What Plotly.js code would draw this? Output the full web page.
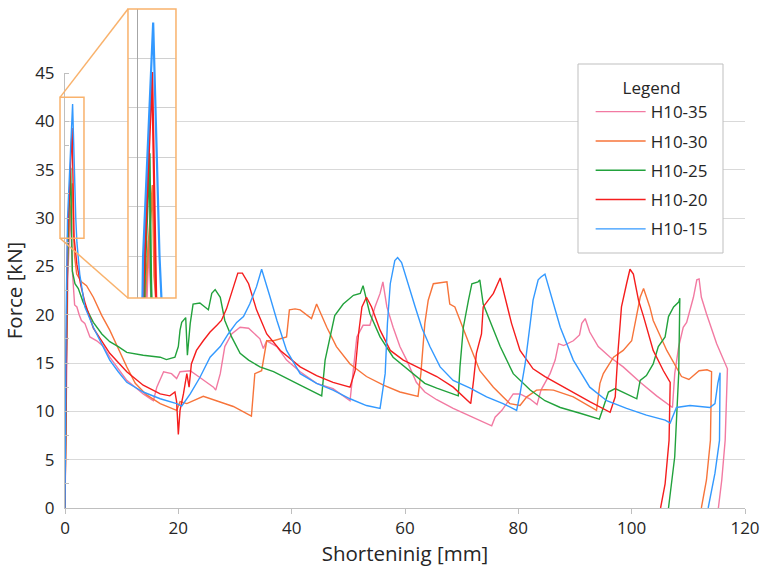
<!DOCTYPE html>
<html><head><meta charset="utf-8">
<script src="https://cdn.plot.ly/plotly-3.0.1.min.js"></script>
<style>html,body{margin:0;padding:0;background:#fff}#chart{width:767px;height:574px}</style>
</head><body><div id="chart"></div>
<script>
// ---------- data ----------
const seriesNames = ['H10-35', 'H10-30', 'H10-25', 'H10-20', 'H10-15'];

const h35_x = [0,0.1,0.3,0.5,0.96,1.3,1.7,2.1,2.5,2.9,3.5,4.4,5.6,6.8,7.9,9.4,10.9,12.4,13.8,15.3,15.6,16.2,17.4,18.8,19.7,20.3,22.1,23.8,26.2,26.6,27.4,28.2,29.4,30.9,32.4,34.4,35.0,35.6,37.4,39.1,41.5,44.4,47.3,50.3,51.5,52.6,53.8,54.7,55.6,56.1,56.8,57.9,59.1,60.3,62.0,63.5,65.6,68.5,71.5,75.3,75.9,77.1,79.1,80.3,82.0,83.3,84.0,84.7,85.6,86.5,87.1,88.0,89.7,90.8,91.2,91.8,92.6,94.1,96.2,98.5,101.5,104.4,105.9,107.2,107.6,108.3,109.1,109.7,110.9,111.5,111.9,112.3,113.2,115.0,116.9,116.5,115.9,115.3];
const h35_y = [0,6,16,24,30.8,24.5,21.0,20.8,20.0,19.4,19.1,17.7,17.3,16.7,15.6,14.4,13.2,12.5,11.8,11.2,11.1,12.5,14.1,13.9,13.4,14.1,14.2,13.5,12.5,12.2,13.9,16.7,18.0,18.7,18.6,17.5,16.5,17.3,16.7,15.3,14.1,12.9,12.35,11.1,17.7,18.9,18.9,20.8,22.2,23.4,20.8,18.7,16.7,15.3,13.0,12.0,11.2,10.3,9.5,8.5,9.4,10.1,11.8,11.8,11.3,10.7,12.2,12.9,13.9,15.3,17.0,16.8,17.3,17.9,19.1,19.6,18.2,16.7,15.6,14.6,13.0,11.6,11.0,10.4,13.9,16.7,18.7,19.2,21.8,23.6,23.7,21.8,20.1,17.0,14.4,7.0,2.9,0];

const h30_x = [0,0.1,0.3,0.5,1.3,1.45,1.7,2.06,2.9,3.8,5.0,6.5,7.9,9.4,10.9,12.4,14.4,16.8,19.7,20.3,21.5,24.4,27.4,29.7,32.9,33.5,34.7,35.6,36.8,39.1,39.6,40.6,41.5,43.5,44.4,46.2,47.9,50.3,53.2,56.2,59.1,62.3,62.8,63.5,64.1,65.0,67.4,67.9,68.8,69.7,71.5,73.2,75.6,78.5,80.3,81.5,83.2,84.7,86.2,89.7,93.8,94.4,95.0,96.8,98.5,100.0,100.9,101.5,102.1,103.2,103.8,106.2,108.8,110.1,111.9,113.3,114.1,113.9,113.2,112.3];
const h30_y = [0,8,20,27,33.6,29,26,24.2,23.4,23.0,21.8,19.9,18.4,16.5,14.6,12.9,11.7,10.8,10.1,11.0,10.8,11.55,11.0,10.5,9.5,13.9,14.2,17.3,17.3,17.7,20.5,20.6,20.5,19.6,21.1,18.7,16.7,14.9,13.6,12.7,12.0,11.55,13.9,19.1,21.5,23.2,23.4,21.1,20.8,19.4,16.7,14.2,12.5,10.8,10.6,11.5,12.2,12.25,12.2,11.5,10.1,12.9,13.9,15.6,16.3,17.3,19.8,21.8,22.7,20.8,19.4,16.3,13.6,13.3,14.2,14.3,14.1,7.0,2.9,0];

const h25_x = [0,0.1,0.35,0.6,1.02,1.15,1.3,1.76,2.35,3.2,5.0,6.5,7.9,9.4,10.9,13.8,16.8,17.9,19.4,20.0,20.3,20.6,21.3,21.6,22.1,22.6,23.8,25.3,25.9,26.5,27.4,28.2,29.4,30.9,32.4,34.4,36.8,41.5,45.3,45.9,46.5,47.1,47.6,49.1,50.9,52.1,52.6,53.8,55.6,57.9,60.3,63.5,65.6,69.4,69.7,70.3,71.2,71.8,72.9,73.2,73.8,75.0,76.8,79.1,82.1,84.7,87.4,90.9,94.3,95.0,95.9,97.1,99.1,100.9,101.5,102.6,103.8,104.7,105.9,106.5,107.4,108.3,108.5,108.3,107.6,106.5];
const h25_y = [0,8,22,29,35.2,29,24.5,23.2,22.7,21.3,19.2,18.0,17.2,16.7,16.1,15.8,15.6,15.35,15.6,16.7,18.4,19.2,19.7,15.8,19.1,21.1,21.2,20.5,22.2,22.6,21.8,19.4,17.7,16.0,15.3,14.6,14.1,12.7,11.6,15.3,17.0,18.7,19.9,21.1,22.0,22.2,23.0,20.1,17.7,15.6,14.4,12.9,12.4,11.6,14.6,18.7,21.5,23.2,23.4,23.6,21.1,19.4,16.7,13.9,12.2,11.1,10.4,9.8,9.2,10.4,12.0,12.35,11.8,11.3,13.2,13.7,14.9,16.7,17.7,19.8,20.8,21.3,21.7,13.9,5.3,0];

const h20_x = [0,0.1,0.3,0.45,1.25,1.6,2.1,2.8,3.5,5.0,7.9,10.9,13.8,16.8,18.5,19.4,19.7,20.0,20.3,20.9,21.5,21.9,22.3,23.2,24.4,25.6,26.8,27.6,28.5,29.7,30.5,31.3,32.4,33.8,35.6,38.0,41.5,44.4,47.3,50.3,51.2,51.8,52.4,53.2,54.1,55.6,57.4,59.7,62.1,63.5,65.6,68.5,71.6,72.1,72.6,73.5,73.8,74.7,75.6,76.8,77.6,78.8,80.3,82.6,84.7,86.8,89.7,92.6,96.2,97.1,97.6,98.2,99.1,99.7,100.3,101.2,102.1,103.8,105.6,106.8,106.6,105.9,105.1];
const h20_y = [0,8,20,28,39.3,28,25.2,23,21.3,18.6,16.0,14.1,12.7,11.8,11.6,12.0,11.0,7.6,10.1,11.8,13.9,12.5,14.9,16.3,17.3,18.2,18.9,19.4,20.6,22.9,24.3,24.3,23.2,20.5,18.0,16.3,14.6,13.7,13.0,12.5,14.2,18.0,20.8,21.8,20.8,18.4,16.3,15.3,14.6,14.2,13.6,12.5,10.8,13.2,16.0,18.0,20.8,21.5,22.2,23.8,21.8,19.1,16.3,14.4,13.6,12.9,12.0,11.0,9.9,11.5,16.3,20.8,23.2,24.7,24.2,21.5,19.8,16.3,14.2,13.0,7.0,2.5,0];

const h15_x = [0,0.05,0.2,0.45,1.34,1.9,2.1,2.6,3.5,5.0,6.5,7.9,9.4,10.9,13.8,16.8,19.7,20.6,22.1,23.8,25.6,27.4,28.8,30.3,31.5,32.6,33.8,34.7,36.2,37.4,39.1,41.5,44.4,47.3,50.3,53.2,55.6,56.5,56.9,57.4,58.2,58.7,59.4,60.3,61.8,63.0,64.4,66.2,68.5,71.5,74.4,77.3,79.7,80.3,81.2,82.1,82.6,83.5,84.0,84.7,85.9,87.4,89.7,92.6,95.6,99.1,102.6,105.9,106.8,107.9,110.3,113.8,114.7,115.2,115.6,115.5,114.7,113.5];
const h15_y = [0,5,20,30,41.8,30,27.5,24.2,20.8,18.7,17.0,15.3,14.1,13.0,12.0,11.3,10.8,10.55,11.8,13.5,15.6,16.7,18.0,19.2,19.8,21.1,22.9,24.7,21.8,19.4,16.3,13.9,12.9,12.2,11.3,10.6,10.3,13.9,19.1,23.2,25.6,25.9,25.4,23.6,20.8,18.6,16.7,14.6,13.2,12.4,11.5,10.8,10.1,11.8,14.9,19.1,21.5,23.6,23.9,24.2,21.8,18.7,15.3,12.5,11.1,10.3,9.6,9.1,8.8,10.4,10.6,10.4,10.8,12.9,14.0,7.0,3.6,0];

const xTickValues = [0, 20, 40, 60, 80, 100, 120];
const yTickValues = [0, 5, 10, 15, 20, 25, 30, 35, 40, 45];

// ---------- styling ----------
const seriesX = [h35_x, h30_x, h25_x, h20_x, h15_x];
const seriesY = [h35_y, h30_y, h25_y, h20_y, h15_y];
const seriesColors = ['#f27aa2', '#f7743a', '#22a23c', '#f51d1d', '#3399ff'];
const insetX = [-0.88, 3.35];
const insetY = [27.9, 42.48];
const mainYDomainTop = 0.87;
const insetDomX = [0.0926, 0.1632];
const insetDomY = [0.42, 0.998];
const boxColor = '#f9b26c';
const font = 'Open Sans, sans-serif';
const txt = '#262626';

const traces = [];
seriesNames.forEach((n, i) => {
  traces.push({
    type: 'scatter', mode: 'lines', name: n, x: seriesX[i], y: seriesY[i],
    legendgroup: n, line: {color: seriesColors[i], width: 1.4},
    xaxis: 'x', yaxis: 'y', hoverinfo: 'skip'
  });
});
seriesNames.forEach((n, i) => {
  traces.push({
    type: 'scatter', mode: 'lines', name: n, x: seriesX[i], y: seriesY[i],
    legendgroup: n, showlegend: false, line: {color: seriesColors[i], width: 2.2},
    xaxis: 'x2', yaxis: 'y2', hoverinfo: 'skip'
  });
});

// paper coordinates of the zoom rectangle on the main plot
const sx0 = insetX[0] / 120, sx1 = insetX[1] / 120;
const sy0 = insetY[0] / 45 * mainYDomainTop, sy1 = insetY[1] / 45 * mainYDomainTop;

const layout = {
  width: 767, height: 574,
  margin: {l: 65, r: 22, t: 8, b: 66},
  paper_bgcolor: '#ffffff', plot_bgcolor: '#ffffff',
  font: {family: font, color: txt, size: 17},
  showlegend: true,
  xaxis: {
    domain: [0, 1], range: [0, 120], tickvals: xTickValues,
    showgrid: false, zeroline: false, showline: true, linecolor: '#bfbfbf', linewidth: 1,
    ticks: 'outside', ticklen: 5, tickcolor: '#bfbfbf',
    tickfont: {family: font, size: 17, color: txt},
    title: {text: 'Shorteninig [mm]', font: {family: font, size: 20.5, color: txt}, standoff: 6}
  },
  yaxis: {
    domain: [0, mainYDomainTop], range: [0, 45], tickvals: yTickValues,
    showgrid: true, gridcolor: '#d9d9d9', gridwidth: 1, zeroline: false,
    showline: true, linecolor: '#bfbfbf', linewidth: 1, ticks: '',
    ticklabelstandoff: 6,
    minor: {ticks: 'inside', ticklen: 4, tickcolor: '#bfbfbf', dtick: 2.5, tick0: 0, showgrid: false},
    tickfont: {family: font, size: 17, color: txt},
    title: {text: 'Force [kN]', font: {family: font, size: 20.5, color: txt}, standoff: 10}
  },
  xaxis2: {
    domain: insetDomX, range: insetX, anchor: 'y2',
    showticklabels: false, showgrid: false, ticks: '', showline: false,
    zeroline: true, zerolinecolor: '#a6a6a6', zerolinewidth: 1
  },
  yaxis2: {
    domain: insetDomY, range: insetY, anchor: 'x2',
    showticklabels: false, ticks: '', showline: false, zeroline: false,
    showgrid: true, gridcolor: '#d0d0d0', tick0: 0, dtick: 2.5
  },
  legend: {
    x: 0.773, y: 0.872, xanchor: 'left', yanchor: 'top',
    bgcolor: 'rgba(0,0,0,0)', borderwidth: 0,
    font: {family: font, size: 17, color: txt},
    title: {text: 'Legend', side: 'top center', font: {family: font, size: 17, color: txt}},
    tracegroupgap: 4.2, itemwidth: 50
  },
  shapes: [
    // legend frame
    {type: 'rect', xref: 'paper', yref: 'paper', x0: (578 - 65) / 680, x1: (723 - 65) / 680,
     y0: (508 - 253) / 500, y1: (508 - 64) / 500, line: {color: '#bfbfbf', width: 1}, fillcolor: '#ffffff', layer: 'above'},
    // zoom rectangle on main plot
    {type: 'rect', xref: 'paper', yref: 'paper', x0: sx0, x1: sx1, y0: sy0, y1: sy1,
     line: {color: boxColor, width: 1.5}, layer: 'above'},
    // connectors
    {type: 'line', xref: 'paper', yref: 'paper', x0: sx0, y0: sy1, x1: insetDomX[0], y1: insetDomY[1],
     line: {color: boxColor, width: 1.5}, layer: 'above'},
    {type: 'line', xref: 'paper', yref: 'paper', x0: sx0, y0: sy0, x1: insetDomX[0], y1: insetDomY[0],
     line: {color: boxColor, width: 1.5}, layer: 'above'},
    // inset frame
    {type: 'rect', xref: 'x2 domain', yref: 'y2 domain', x0: 0, x1: 1, y0: 0, y1: 1,
     line: {color: boxColor, width: 1.5}, layer: 'above'}
  ]
};

Plotly.newPlot('chart', traces, layout, {staticPlot: true, displayModeBar: false});
</script>
</body></html>
